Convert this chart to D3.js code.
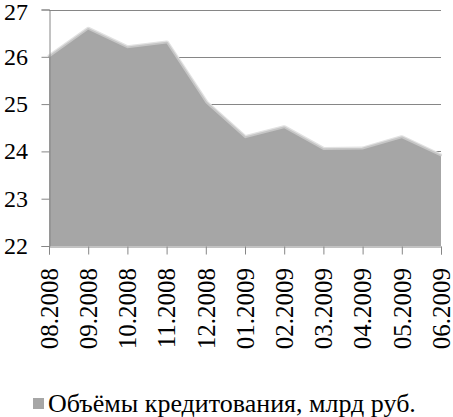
<!DOCTYPE html>
<html><head><meta charset="utf-8">
<script src="https://cdn.jsdelivr.net/npm/d3@7"></script>
<style>body{margin:0;background:#fff}svg{display:block}</style>
</head><body>
<script>
const months = ["08.2008","09.2008","10.2008","11.2008","12.2008","01.2009","02.2009","03.2009","04.2009","05.2009","06.2009"];
const values = [25.98, 26.57, 26.18, 26.28, 25.02, 24.28, 24.49, 24.03, 24.04, 24.28, 23.89];
const yTicks = [22, 23, 24, 25, 26, 27];
const seriesName = "Объёмы кредитования, млрд руб.";

const W = 453, H = 417;
const L = 49, R = 441, T = 9.5, B = 246;
const FAM = "Liberation Serif";
const svg = d3.select("body").append("svg").attr("width", W).attr("height", H);

const x = d3.scalePoint().domain(months).range([L, R]);
const y = d3.scaleLinear().domain([22, 27]).range([B, T]);

// grid
svg.append("g").selectAll("line").data(yTicks.filter(d => d > 22)).join("line")
  .attr("x1", L).attr("x2", R).attr("y1", d => Math.round(y(d)) + 0.5).attr("y2", d => Math.round(y(d)) + 0.5)
  .attr("stroke", "#868686").attr("stroke-width", 1);

// area with a soft lighter rim on top
const area = d3.area().x((d, i) => x(months[i])).y0(B).y1(d => y(d));
const topLine = d3.line().x((d, i) => x(months[i])).y(d => y(d));
svg.append("path").datum(values).attr("d", topLine)
  .attr("fill", "none").attr("stroke", "#e2e2e2").attr("stroke-width", 6).attr("stroke-linejoin", "round");
svg.append("path").datum(values).attr("d", topLine)
  .attr("fill", "none").attr("stroke", "#c6c6c6").attr("stroke-width", 3.5).attr("stroke-linejoin", "round");
svg.append("path").datum(values).attr("d", area).attr("fill", "#a6a6a6");

// y axis
const ya = svg.append("g").attr("transform", `translate(${L + 0.5},0)`)
  .call(d3.axisLeft(y).tickValues(yTicks).tickSize(8).tickFormat(d3.format("d")));
ya.select(".domain").attr("stroke", "#868686");
ya.selectAll(".tick line").attr("stroke", "#868686");
ya.selectAll(".tick text").remove();

svg.append("g").selectAll("text").data(yTicks).join("text")
  .attr("x", 28).attr("y", d => y(d))
  .attr("text-anchor", "end").attr("dy", d => d === 27 ? "0.45em" : "0.33em")
  .attr("font-family", FAM).attr("font-size", 24).attr("fill", "#000")
  .text(d => d3.format("d")(d));

// x axis
const xa = svg.append("g").attr("transform", `translate(0,${B + 0.5})`)
  .call(d3.axisBottom(x).tickSize(8).tickFormat(() => ""));
xa.select(".domain").attr("stroke", "#868686");
xa.selectAll(".tick line").attr("stroke", "#868686");
xa.selectAll(".tick text").remove();

svg.append("g").selectAll("text").data(months).join("text")
  .attr("transform", d => `translate(${x(d)},268) rotate(-90)`)
  .attr("text-anchor", "end").attr("dy", "0.35em")
  .attr("font-family", FAM).attr("font-size", 25).attr("fill", "#000")
  .text(d => d);

// legend
svg.append("rect").attr("x", 33).attr("y", 398).attr("width", 11).attr("height", 11).attr("fill", "#a6a6a6");
const lg = svg.append("text").attr("x", 48).attr("y", 412)
  .attr("font-family", FAM).attr("font-size", 23).attr("fill", "#000")
  .text(seriesName);
const len = lg.node().getComputedTextLength();
if (len > 0) lg.attr("font-size", Math.min(26, 23 * 392 / len).toFixed(2));
</script>
</body></html>
